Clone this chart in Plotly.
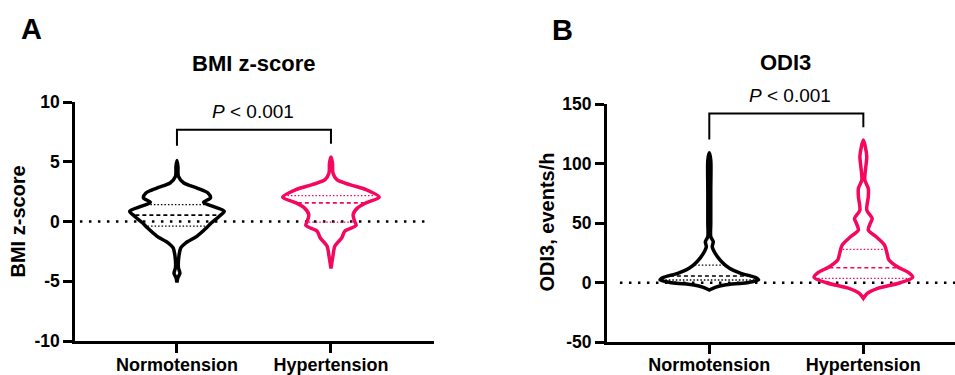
import numpy as np
import plotly.graph_objects as go

# ---------------- data ----------------
categories = ["Normotension", "Hypertension"]
group_colors = ["#000000", "#F5065F"]

# Panel A: BMI z-score - violin outline profile (value, relative density)
bmi_norm_y = [5.11, 4.61, 3.78, 3.22, 2.80, 2.39, 1.97, 1.61, 1.22, 0.86, 0.44, -0.11, -0.53, -1.22, -1.78, -2.19, -2.89, -3.86, -4.33, -4.69, -5.11]
bmi_norm_d = [0.00, 0.02, 0.03, 0.14, 0.41, 0.63, 0.68, 0.54, 0.76, 0.96, 0.86, 0.70, 0.60, 0.41, 0.18, 0.08, 0.04, 0.03, 0.06, 0.02, 0.00]
bmi_hyp_y = [5.39, 4.89, 4.06, 3.50, 3.08, 2.67, 2.03, 1.56, 1.14, 0.58, 0.03, -0.33, -0.81, -1.36, -2.06, -2.89, -3.94]
bmi_hyp_d = [0.00, 0.03, 0.04, 0.12, 0.38, 0.71, 0.98, 0.71, 0.54, 0.45, 0.48, 0.51, 0.28, 0.22, 0.08, 0.04, 0.00]
bmi_quartiles = [[-0.39, 0.53, 1.42], [-0.06, 1.56, 2.17]]  # Q1, median, Q3
bmi_ticks = [-10, -5, 0, 5, 10]
bmi_ticktext = ["-10", "-5", "0", "5", "10"]

# Panel B: ODI3 - violin outline profile (value, relative density)
odi_norm_y = [109.1, 102.9, 77.8, 49.8, 38.6, 34.4, 30.2, 24.7, 17.6, 12.1, 7.9, 4.5, 2.3, 0.0, -1.9, -3.9, -6.1]
odi_norm_d = [0.00, 0.03, 0.03, 0.03, 0.03, 0.08, 0.06, 0.12, 0.25, 0.41, 0.64, 0.93, 1.00, 0.76, 0.31, 0.12, 0.00]
odi_hyp_y = [119.7, 114.1, 105.7, 97.3, 86.2, 79.2, 72.1, 61.0, 54.0, 49.8, 44.2, 38.6, 31.6, 24.7, 19.0, 13.4, 8.4, 4.5, 0.0, -4.7, -8.9, -13.1]
odi_hyp_d = [0.00, 0.04, 0.07, 0.05, 0.03, 0.10, 0.10, 0.07, 0.18, 0.14, 0.10, 0.26, 0.43, 0.48, 0.52, 0.69, 0.92, 1.00, 0.75, 0.29, 0.08, 0.00]
odi_quartiles = [[2.3, 5.6, 14.8], [3.7, 12.6, 28.0]]
odi_ticks = [-50, 0, 50, 100, 150]
odi_ticktext = ["-50", "0", "50", "100", "150"]

p_text = "<i>P</i> < 0.001"

# ---------------- style ----------------
W, H = 955, 375
VHALF = 0.32          # max violin half-width in category units
OUT_W = 3.5
FAM = "Liberation Sans, Arial, sans-serif"
Y_FONT = dict(family=FAM, size=17.5, color="black", weight="bold")
X_FONT = dict(family=FAM, size=18, color="black", weight="bold")

fig = go.Figure()


def add_violin(xref, yref, center, ys, ds, color, quart):
    ys = np.array(ys, float)
    ds = np.array(ds, float) * VHALF
    xs = np.concatenate([center - ds, (center + ds)[::-1]])
    yy = np.concatenate([ys, ys[::-1]])
    fig.add_trace(go.Scatter(x=xs, y=yy, mode="lines", xaxis=xref, yaxis=yref,
                             line=dict(color=color, width=OUT_W, shape="spline", smoothing=0.8),
                             hoverinfo="skip", showlegend=False))
    # quartile lines
    order = np.argsort(ys)
    for i, q in enumerate(quart):
        w = np.interp(q, ys[order], ds[order]) - 0.012
        dash = "4px,3px" if i == 1 else "1.5px,2px"
        lw = 1.6 if i == 1 else 1.3
        fig.add_trace(go.Scatter(x=[center - w, center + w], y=[q, q], mode="lines",
                                 xaxis=xref, yaxis=yref,
                                 line=dict(color=color, width=lw, dash=dash),
                                 hoverinfo="skip", showlegend=False))


def add_bracket(xref, yref, y_left, y_top, y_right):
    fig.add_trace(go.Scatter(x=[0, 0, 1, 1], y=[y_left, y_top, y_top, y_right], mode="lines",
                             xaxis=xref, yaxis=yref, line=dict(color="black", width=2),
                             hoverinfo="skip", showlegend=False))


def add_zero(xref, yref, x0, x1):
    fig.add_trace(go.Scatter(x=[x0, x1], y=[0, 0], mode="lines", xaxis=xref, yaxis=yref,
                             line=dict(color="black", width=2.5, dash="2.5px,6.5px"),
                             hoverinfo="skip", showlegend=False))


# Panel A
add_zero("x", "y", -0.63, 1.63)
add_violin("x", "y", 0, bmi_norm_y, bmi_norm_d, group_colors[0], bmi_quartiles[0])
add_violin("x", "y", 1, bmi_hyp_y, bmi_hyp_d, group_colors[1], bmi_quartiles[1])
add_bracket("x", "y", 6.33, 7.67, 6.5)

# Panel B
add_zero("x2", "y2", -0.58, 1.6)
add_violin("x2", "y2", 0, odi_norm_y, odi_norm_d, group_colors[0], odi_quartiles[0])
add_violin("x2", "y2", 1, odi_hyp_y, odi_hyp_d, group_colors[1], odi_quartiles[1])
add_bracket("x2", "y2", 120.3, 142.0, 130.4)

axis_common = dict(showline=True, linecolor="black", linewidth=2.5, ticks="outside",
                   ticklen=9, tickwidth=2.5, tickcolor="black", showgrid=False,
                   zeroline=False, fixedrange=True)
yax = dict(tickfont=Y_FONT, **axis_common)

fig.update_layout(
    width=W, height=H, margin=dict(l=0, r=0, t=0, b=0, autoexpand=False),
    paper_bgcolor="white", plot_bgcolor="white", showlegend=False,
    xaxis=dict(domain=[75 / W, 434 / W], range=[-0.662, 1.669], tickvals=[0, 1],
               ticktext=categories, anchor="y", tickfont=X_FONT, ticklabelstandoff=-3,
               **axis_common),
    yaxis=dict(domain=[1 - 341 / H, 1 - 102 / H], range=[-10, 10], tickvals=bmi_ticks,
               ticktext=bmi_ticktext, anchor="x", **yax),
    xaxis2=dict(domain=[606.7 / W, 1.0], range=[-0.666, 1.595], tickvals=[0, 1],
                ticktext=categories, anchor="y2", tickfont=X_FONT, ticklabelstandoff=-5,
                **axis_common),
    yaxis2=dict(domain=[1 - 342.3 / H, 1 - 104 / H], range=[-50, 150],
                tickvals=odi_ticks, ticktext=odi_ticktext, anchor="x2", **yax),
)

bold = lambda s: dict(family=FAM, size=s, color="black", weight="bold")
labels = [
    ("A", 31, 29, 29, 0), ("B", 562, 30, 29, 0),
    ("BMI z-score", 254, 63, 22, 0), ("ODI3", 785, 62, 22, 0),
    ("BMI z-score", 17.5, 222, 20, -90), ("ODI3, events/h", 546, 222.5, 20, -90),
]
for txt, px, py, size, ang in labels:
    fig.add_annotation(x=px / W, y=1 - py / H, xref="paper", yref="paper", text=txt,
                       showarrow=False, font=bold(size), textangle=ang,
                       xanchor="center", yanchor="middle")

# p-value labels (paper coordinates so they are not clipped by axis ranges)
for px, py in [(253, 111), (790, 95)]:
    fig.add_annotation(x=px / W, y=1 - py / H, xref="paper", yref="paper", text=p_text,
                       showarrow=False, font=dict(family=FAM, size=19, color="black"),
                       xanchor="center", yanchor="middle")

fig.write_html("out.html", config={"displayModeBar": False},
               post_script="document.body.style.margin='0';document.body.style.overflow='hidden';")
